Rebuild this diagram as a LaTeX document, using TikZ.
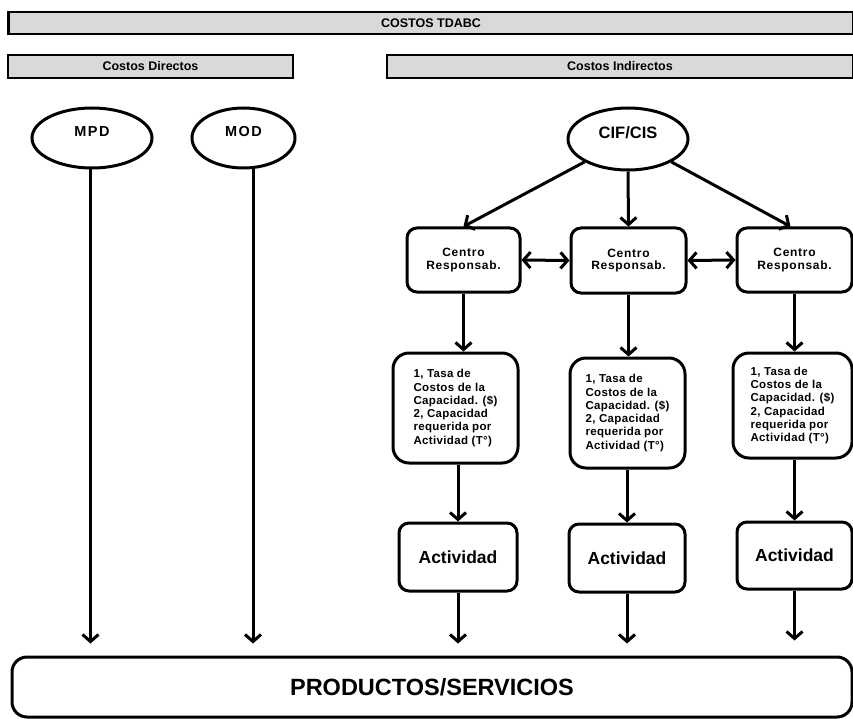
\documentclass[tikz,border=0pt]{standalone}
\usepackage{fontspec}
\setmainfont{Liberation Sans}
\usetikzlibrary{shapes.geometric,arrows.meta}
\definecolor{barfill}{HTML}{D9D9D9}
\begin{document}
\begin{tikzpicture}[x=1pt,y=-1pt,
  bar/.style={draw=black,line width=2.8pt,fill=barfill,inner sep=0pt,minimum height=22pt,
    font=\bfseries\fontsize{12.5}{14}\selectfont},
  oval/.style={ellipse,draw,line width=3pt,inner sep=0pt},
  ovaltext/.style={font=\bfseries\fontsize{14.5}{16}\selectfont\addfontfeature{LetterSpace=10},yshift=6pt},
  crbox/.style={draw,line width=3pt,rounded corners=10pt,inner sep=0pt,align=center,
    minimum height=64pt,font=\bfseries\fontsize{12}{12.5}\selectfont\addfontfeature{LetterSpace=6}},
  tbox/.style={draw,line width=3pt,rounded corners=16pt,inner sep=0pt,align=left,
    font=\bfseries\fontsize{11.5}{13.3}\selectfont\addfontfeature{LetterSpace=3}},
  abox/.style={draw,line width=3pt,rounded corners=10pt,inner sep=0pt,minimum height=68pt,
    font=\bfseries\fontsize{17.5}{19}\selectfont},
  tip/.tip={Straight Barb[length=7pt,width=16pt]},
  arr/.style={line width=3pt,-tip},
  darr/.style={line width=3pt,tip-tip}
]
\useasboundingbox (0,0) rectangle (853,719);

% bars
\node[bar,minimum width=845pt] (title) at (431,23) {COSTOS TDABC};
\node[bar,minimum width=285pt,minimum height=23pt] (dir) at (150.5,66.5) {Costos Directos};
\node[bar,minimum width=466pt,minimum height=23pt] (ind) at (620,66.5) {Costos Indirectos};

% ellipses
\node[oval,minimum width=120pt,minimum height=60pt,label={[ovaltext]center:MPD}] (mpd) at (92,138) {};
\node[oval,minimum width=103pt,minimum height=60pt,label={[ovaltext]center:MOD}] (mod) at (243.5,138) {};
\node[oval,minimum width=120pt,minimum height=62pt,
  label={[ovaltext,font=\bfseries\fontsize{16.5}{18}\selectfont]center:CIF/CIS}] (cif) at (628,139) {};

% centro boxes
\node[crbox,minimum width=113pt] (c1) at (463.5,260) {Centro\\Responsab.};
\node[crbox,minimum width=115pt,minimum height=65pt] (c2) at (628.5,260.5) {Centro\\Responsab.};
\node[crbox,minimum width=115pt] (c3) at (794.5,260) {Centro\\Responsab.};

% tasa boxes
\node[tbox,minimum width=125pt,minimum height=110pt] (t1) at (455.5,408)
  {1, Tasa de\\Costos de la\\Capacidad. (\$)\\2, Capacidad\\requerida por\\Actividad (T°)};
\node[tbox,minimum width=115pt,minimum height=110pt] (t2) at (627.5,413)
  {1, Tasa de\\Costos de la\\Capacidad. (\$)\\2, Capacidad\\requerida por\\Actividad (T°)};
\node[tbox,minimum width=119pt,minimum height=105pt] (t3) at (792.5,405.5)
  {1, Tasa de\\Costos de la\\Capacidad. (\$)\\2, Capacidad\\requerida por\\Actividad (T°)};

% actividad boxes
\node[abox,minimum width=118pt] (a1) at (458,557) {Actividad};
\node[abox,minimum width=116pt] (a2) at (627,558) {Actividad};
\node[abox,minimum width=115pt,minimum height=67pt] (a3) at (794.5,555.5) {Actividad};

% products
\node[draw,line width=3pt,rounded corners=15pt,minimum width=840pt,minimum height=60pt,inner sep=0pt,
  font=\bfseries\fontsize{23.5}{25}\selectfont] (prod) at (432,687) {PRODUCTOS/SERVICIOS};

% connectors
\coordinate (mpdo) at (90.5,168);
\coordinate (modo) at (253,168);
\draw[arr,shorten >=12pt] (mpdo) -- (mpdo |- prod.north);
\draw[arr,shorten >=12pt] (modo) -- (modo |- prod.north);

\draw[arr] (cif.south west) -- (c1.north);
\draw[arr] (cif.south) -- (c2.north);
\draw[arr] (cif.south east) -- ([xshift=-4pt]c3.north);

\draw[darr] (c1.east) -- (c2.west);
\draw[darr] (c2.east) -- (c3.west);

\draw[arr] (c1.south) -- (c1.south |- t1.north);
\draw[arr] (c2.south) -- (c2.south |- t2.north);
\draw[arr] (c3.south) -- (c3.south |- t3.north);

\draw[arr] (a1.north |- t1.south) -- (a1.north);
\draw[arr] (a2.north |- t2.south) -- (a2.north);
\draw[arr] (a3.north |- t3.south) -- (a3.north);

\draw[arr,shorten >=12pt] (a1.south) -- (a1.south |- prod.north);
\draw[arr,shorten >=12pt] (a2.south) -- (a2.south |- prod.north);
\draw[arr,shorten >=15pt] (a3.south) -- (a3.south |- prod.north);
\end{tikzpicture}
\end{document}
